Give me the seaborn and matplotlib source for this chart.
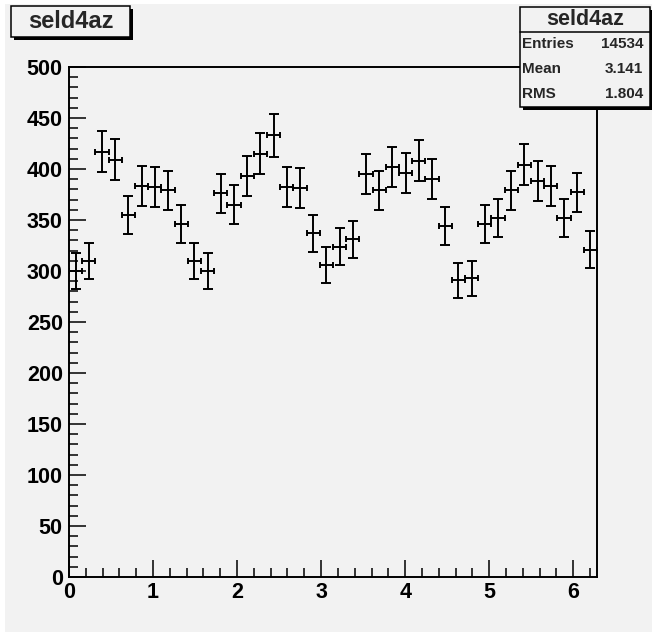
import numpy as np
import pandas as pd
import seaborn as sns
import matplotlib
matplotlib.use("Agg")
import matplotlib.pyplot as plt
from matplotlib.patches import Rectangle
from matplotlib.lines import Line2D

# histogram contents (40 bins between 0 and 2*pi)
hist_name = "seld4az"
n_bins = 40
x_min, x_max = 0.0, 2 * np.pi
counts = [300, 310, 417, 409, 355, 383, 382, 379, 346, 310,
          300, 376, 365, 393, 415, 433, 382, 381, 337, 306,
          324, 331, 395, 379, 402, 396, 408, 390, 344, 291,
          293, 346, 352, 379, 404, 388, 383, 352, 377, 321]
stat_labels = ["Entries", "Mean", "RMS"]
stat_values = ["14534", "3.141", "1.804"]

edges = np.linspace(x_min, x_max, n_bins + 1)
df = pd.DataFrame({
    "phi": 0.5 * (edges[:-1] + edges[1:]),
    "entries": counts,
})
df["err"] = np.sqrt(df["entries"])
half_w = 0.5 * (edges[1] - edges[0])

sns.set_style("ticks")
plt.rcParams["font.family"] = ["Liberation Sans", "DejaVu Sans"]
plt.rcParams["font.weight"] = "bold"

W, H = 652, 634
fig = plt.figure(figsize=(W / 100, H / 100), dpi=100, facecolor="white")


def fx(px):
    return px / W


def fy(py):
    return 1 - py / H


# ROOT-like canvas
fig.add_artist(Rectangle((fx(5), fy(632)), fx(W - 5), 628 / H,
                         transform=fig.transFigure, facecolor="#f2f2f2",
                         edgecolor="none", zorder=0))

ax = fig.add_axes([fx(69), fy(577), fx(597 - 69), (577 - 67) / H])
ax.set_facecolor("#f2f2f2")

# vertical errors with wide caps, horizontal bin width with short caps
ax.errorbar(df["phi"], df["entries"], yerr=df["err"], fmt="none",
            ecolor="black", elinewidth=1.4, capsize=3.6, capthick=1.4)
ax.errorbar(df["phi"], df["entries"], xerr=half_w, fmt="none",
            ecolor="black", elinewidth=1.4, capsize=2.4, capthick=1.4)

ax.set_xlim(x_min, x_max)
ax.set_ylim(0, 500)
ax.set_xticks(range(0, 7))
ax.set_xticks(np.arange(0, 6.3, 0.2), minor=True)
ax.set_yticks(range(0, 501, 50))
ax.set_yticks(range(0, 501, 10), minor=True)
ax.tick_params(which="both", direction="in", top=False, right=False,
               width=1.1, colors="black", labelsize=15.5)
ax.tick_params(which="major", length=12.2)
ax.tick_params(which="minor", length=6.5)
ax.tick_params(axis="y", pad=4.5)
ax.tick_params(axis="x", pad=3.6)
for lab in ax.get_xticklabels() + ax.get_yticklabels():
    lab.set_fontweight("bold")
for sp in ax.spines.values():
    sp.set_linewidth(1.4)
    sp.set_color("black")
ax.set_xlabel("")
ax.set_ylabel("")


def boxed(x0, y0, x1, y1, shadow=3):
    fig.add_artist(Rectangle((fx(x0 + shadow), fy(y1 + shadow)),
                             fx(x1 - x0), (y1 - y0) / H,
                             transform=fig.transFigure, facecolor="black",
                             edgecolor="none", zorder=5))
    fig.add_artist(Rectangle((fx(x0), fy(y1)), fx(x1 - x0), (y1 - y0) / H,
                             transform=fig.transFigure, facecolor="#f2f2f2",
                             edgecolor="black", linewidth=1.1, zorder=6))


# title box
boxed(11, 6, 130, 37)
fig.text(fx(70.5), fy(21.5), hist_name, ha="center", va="center",
         fontsize=17, fontweight="bold", zorder=7)

# stats box
boxed(520, 7, 650, 107)
fig.add_artist(Line2D([fx(520), fx(650)], [fy(32), fy(32)],
                      transform=fig.transFigure, color="black",
                      linewidth=1.1, zorder=7))
fig.text(fx(585), fy(19.5), hist_name, ha="center", va="center",
         fontsize=15.5, fontweight="bold", zorder=7)
for i, (lab, val) in enumerate(zip(stat_labels, stat_values)):
    yy = fy(43.5 + 25.5 * i)
    fig.text(fx(522), yy, lab, ha="left", va="center", fontsize=11,
             fontweight="bold", zorder=7)
    fig.text(fx(643), yy, val, ha="right", va="center", fontsize=11,
             fontweight="bold", zorder=7)

fig.savefig("out.png", dpi=100, facecolor="white")
